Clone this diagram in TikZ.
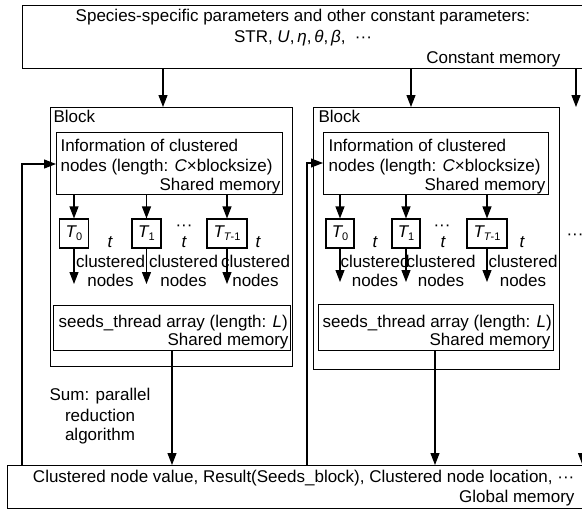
\documentclass[tikz,border=0pt]{standalone}
\usepackage{fontspec}
\setmainfont{Liberation Sans}
\usetikzlibrary{arrows.meta}
\newcommand{\Tsub}[1]{{\itshape T}\raisebox{-3pt}{\fontsize{11}{11}\selectfont #1}}
\begin{document}
\begin{tikzpicture}[x=1pt,y=-1pt,
  line width=1.1pt,
  every node/.style={font=\fontsize{17}{20}\selectfont, inner sep=0pt},
  box/.style={draw, rectangle, inner sep=0pt, anchor=north west},
  tbox/.style={draw, rectangle, minimum height=29pt, inner sep=0pt},
  arr/.style={-{Triangle[length=12pt,width=9pt]}, line width=1.1pt},
  lw/.style={anchor=base west},
  le/.style={anchor=base east},
  lc/.style={anchor=base},
  tl/.style={anchor=base, font=\fontsize{17}{20}\selectfont\itshape}
]
\useasboundingbox (0,0) rectangle (582,509);

% memory boxes
\node[box, minimum width=573pt, minimum height=63pt] (top) at (22,5) {};
\node[box, minimum width=242pt, minimum height=259pt] (block1) at (50,107) {};
\node[box, minimum width=246pt, minimum height=262pt] (block2) at (313,107) {};
\node[box, minimum width=226pt, minimum height=62pt] (info1) at (56,132) {};
\node[box, minimum width=225pt, minimum height=62pt] (info2) at (323,132) {};
\node[box, minimum width=237pt, minimum height=45pt] (seeds1) at (53,305) {};
\node[box, minimum width=235pt, minimum height=46pt] (seeds2) at (318,304) {};
\node[box, minimum width=588pt, minimum height=43pt] (glob) at (7,465) {};

% constant memory text
\node[lc] (p1) at (303,21) {Species-specific parameters and other constant parameters:};
\node[lc] (p2) at (303,42) {STR, \textit{U},\,\textit{η},\,\textit{θ},\,\textit{β}, \ ···};
\node[le] (p3) at (561,63) {Constant memory};

% block 1
\node[lw] (bl1) at (53,122) {Block};
\node[lw] (i1a) at (60,151) {Information of clustered};
\node[lw] (i1b) at (60,171) {nodes (length: \textit{C}×blocksize)};
\node[le] (i1c) at (281,190) {Shared memory};
\node[tbox, minimum width=29pt] (a10) at (74,233.5) {\Tsub{0}};
\node[tbox, minimum width=29pt] (a11) at (146.5,233.5) {\Tsub{1}};
\node[tbox, minimum width=40pt] (a12) at (227,233.5) {\Tsub{\itshape T\upshape -1}};
\node[tl] (t10) at (110,247) {t};
\node[tl] (t11) at (184,247) {t};
\node[tl] (t12) at (258,247) {t};
\node[lc] (e11) at (184,230) {···};
\node[lc] (c10) at (110.5,267) {clustered};
\node[lc] (n10) at (110.5,286) {nodes};
\node[lc] (c11) at (183.5,267) {clustered};
\node[lc] (n11) at (183.5,286) {nodes};
\node[lc] (c12) at (255.5,267) {clustered};
\node[lc] (n12) at (255.5,286) {nodes};
\node[lw] (s1a) at (58,327) {seeds\_thread array (length: \textit{L})};
\node[le] (s1b) at (289,345) {Shared memory};

% block 2
\node[lw] (bl2) at (318,122) {Block};
\node[lw] (i2a) at (328,151) {Information of clustered};
\node[lw] (i2b) at (328,171) {nodes (length: \textit{C}×blocksize)};
\node[le] (i2c) at (546,190) {Shared memory};
\node[tbox, minimum width=28pt] (a20) at (340,233.5) {\Tsub{0}};
\node[tbox, minimum width=28pt] (a21) at (406,233.5) {\Tsub{1}};
\node[tbox, minimum width=40pt] (a22) at (487,233.5) {\Tsub{\itshape T\upshape -1}};
\node[tl] (t20) at (375,247) {t};
\node[tl] (t21) at (443,247) {t};
\node[tl] (t22) at (522,247) {t};
\node[lc] (e21) at (442,230) {···};
\node[lc] (c20) at (375,267) {clustered};
\node[lc] (n20) at (375,286) {nodes};
\node[lc] (c21) at (441,267) {clustered};
\node[lc] (n21) at (441,286) {nodes};
\node[lc] (c22) at (523,267) {clustered};
\node[lc] (n22) at (523,286) {nodes};
\node[lw] (s2a) at (322,327) {seeds\_thread array (length: \textit{L})};
\node[le] (s2b) at (551,345) {Shared memory};

% further blocks
\node[lc] (more) at (575,239) {···};

% reduction note
\node[lc] (r1) at (100,400) {Sum: parallel};
\node[lc] (r2) at (100,421) {reduction};
\node[lc] (r3) at (100,440) {algorithm};

% global memory text
\node[le] (g1) at (575,482) {Clustered node value, Result(Seeds\_block), Clustered node location, ···};
\node[le] (g2) at (575,502) {Global memory};

% helper points for connector positions
\coordinate (x1) at (163,0);
\coordinate (x2) at (411,0);
\coordinate (rr) at (576,107);
\coordinate (rb) at (582.5,453);
\coordinate (sx1) at (172,0);
\coordinate (sx2) at (435,0);
\coordinate (f1) at (22,164);
\coordinate (f2) at (307,163);
\coordinate (d10) at (74,284);
\coordinate (d11) at (146.5,284);
\coordinate (d12) at (227,284);
\coordinate (d20) at (340,282);
\coordinate (d21) at (406,282);
\coordinate (d22) at (487,282);

% constant memory to blocks
\draw[arr] (top.south -| x1) -- (block1.north -| x1);
\draw[arr] (top.south -| x2) -- (block2.north -| x2);
\draw[arr] (top.south -| rr) -- (rr);

% shared memory to threads and threads onwards
\foreach \t in {10,11,12} {
  \draw[arr] (a\t.north |- info1.south) -- (a\t.north);
  \draw[arr] (a\t.south) -- (d\t);
}
\foreach \t in {20,21,22} {
  \draw[arr] (a\t.north |- info2.south) -- (a\t.north);
  \draw[arr] (a\t.south) -- (d\t);
}

% results to global memory
\draw[arr] (seeds1.south -| sx1) -- (glob.north -| sx1);
\draw[arr] (seeds2.south -| sx2) -- (glob.north -| sx2);
\draw[arr] (rb) -- (rb |- glob.north);

% global memory back to the blocks
\draw[arr] (glob.north -| f1) -- (f1) -- (info1.west |- f1);
\draw[arr] (glob.north -| f2) -- (f2) -- (info2.west |- f2);
\end{tikzpicture}
\end{document}
